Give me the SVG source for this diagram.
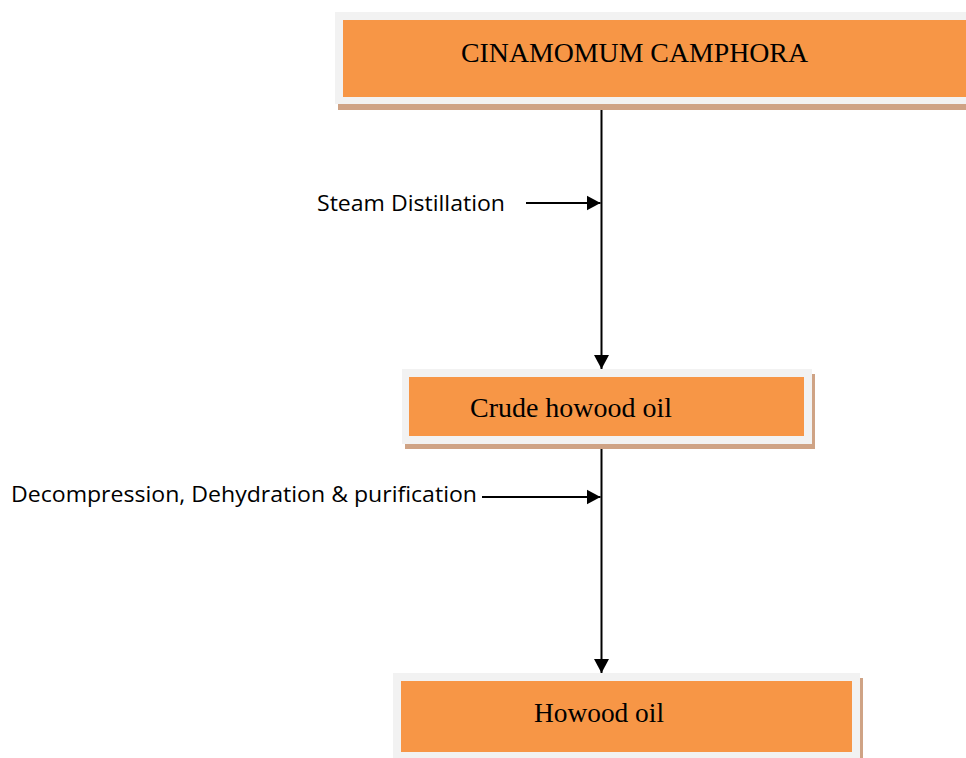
<svg xmlns="http://www.w3.org/2000/svg" width="966" height="758" viewBox="0 0 966 758">
<style>
.shadow{fill:#CFA385}
.frame{fill:#F2F2F2}
.fill{fill:#F79646}
.nt{font-family:"Liberation Serif","Times New Roman",serif;font-size:28px;fill:#000}
.lt{font-family:"Open Sans","Noto Sans",sans-serif;font-size:22px;fill:#000}
.ln{stroke:#000;stroke-width:2;fill:none}
</style>
<defs>
<marker id="ah" markerWidth="16" markerHeight="16" viewBox="0 0 16 16" refX="14" refY="8" orient="auto" markerUnits="userSpaceOnUse">
<path d="M0,0.5 L14,8 L0,15.5 Z" fill="#000"/>
</marker>
</defs>
<rect width="966" height="758" fill="#fff"/>
<g id="node-cinamomum">
<rect class="shadow" x="338" y="17" width="640" height="93"/>
<rect class="frame" x="335" y="12" width="640" height="92"/>
<rect class="fill" x="343" y="20" width="630" height="77"/>
<text class="nt" x="461" y="62" textLength="347" lengthAdjust="spacingAndGlyphs">CINAMOMUM CAMPHORA</text>
</g>
<g id="node-crude">
<rect class="shadow" x="405" y="374" width="410" height="75"/>
<rect class="frame" x="402" y="369" width="410" height="75"/>
<rect class="fill" x="409" y="377" width="395" height="59"/>
<text class="nt" x="470" y="417" textLength="202" lengthAdjust="spacingAndGlyphs">Crude howood oil</text>
</g>
<g id="node-howood">
<rect class="shadow" x="396" y="678" width="467" height="90"/>
<rect class="frame" x="393" y="673" width="467" height="90"/>
<rect class="fill" x="401" y="681" width="451" height="71"/>
<text class="nt" x="534" y="722" textLength="130" lengthAdjust="spacingAndGlyphs">Howood oil</text>
</g>
<g id="connectors">
<line class="ln" x1="601.5" y1="110" x2="601.5" y2="369" marker-end="url(#ah)"/>
<line class="ln" x1="601.5" y1="449" x2="601.5" y2="673" marker-end="url(#ah)"/>
<line class="ln" x1="526" y1="203" x2="600.5" y2="203" marker-end="url(#ah)"/>
<line class="ln" x1="482" y1="497" x2="600.5" y2="497" marker-end="url(#ah)"/>
</g>
<g id="labels">
<text class="lt" x="317" y="211" textLength="188" lengthAdjust="spacingAndGlyphs">Steam Distillation</text>
<text class="lt" x="11" y="502" textLength="466" lengthAdjust="spacingAndGlyphs">Decompression, Dehydration &amp; purification</text>
</g>
</svg>
